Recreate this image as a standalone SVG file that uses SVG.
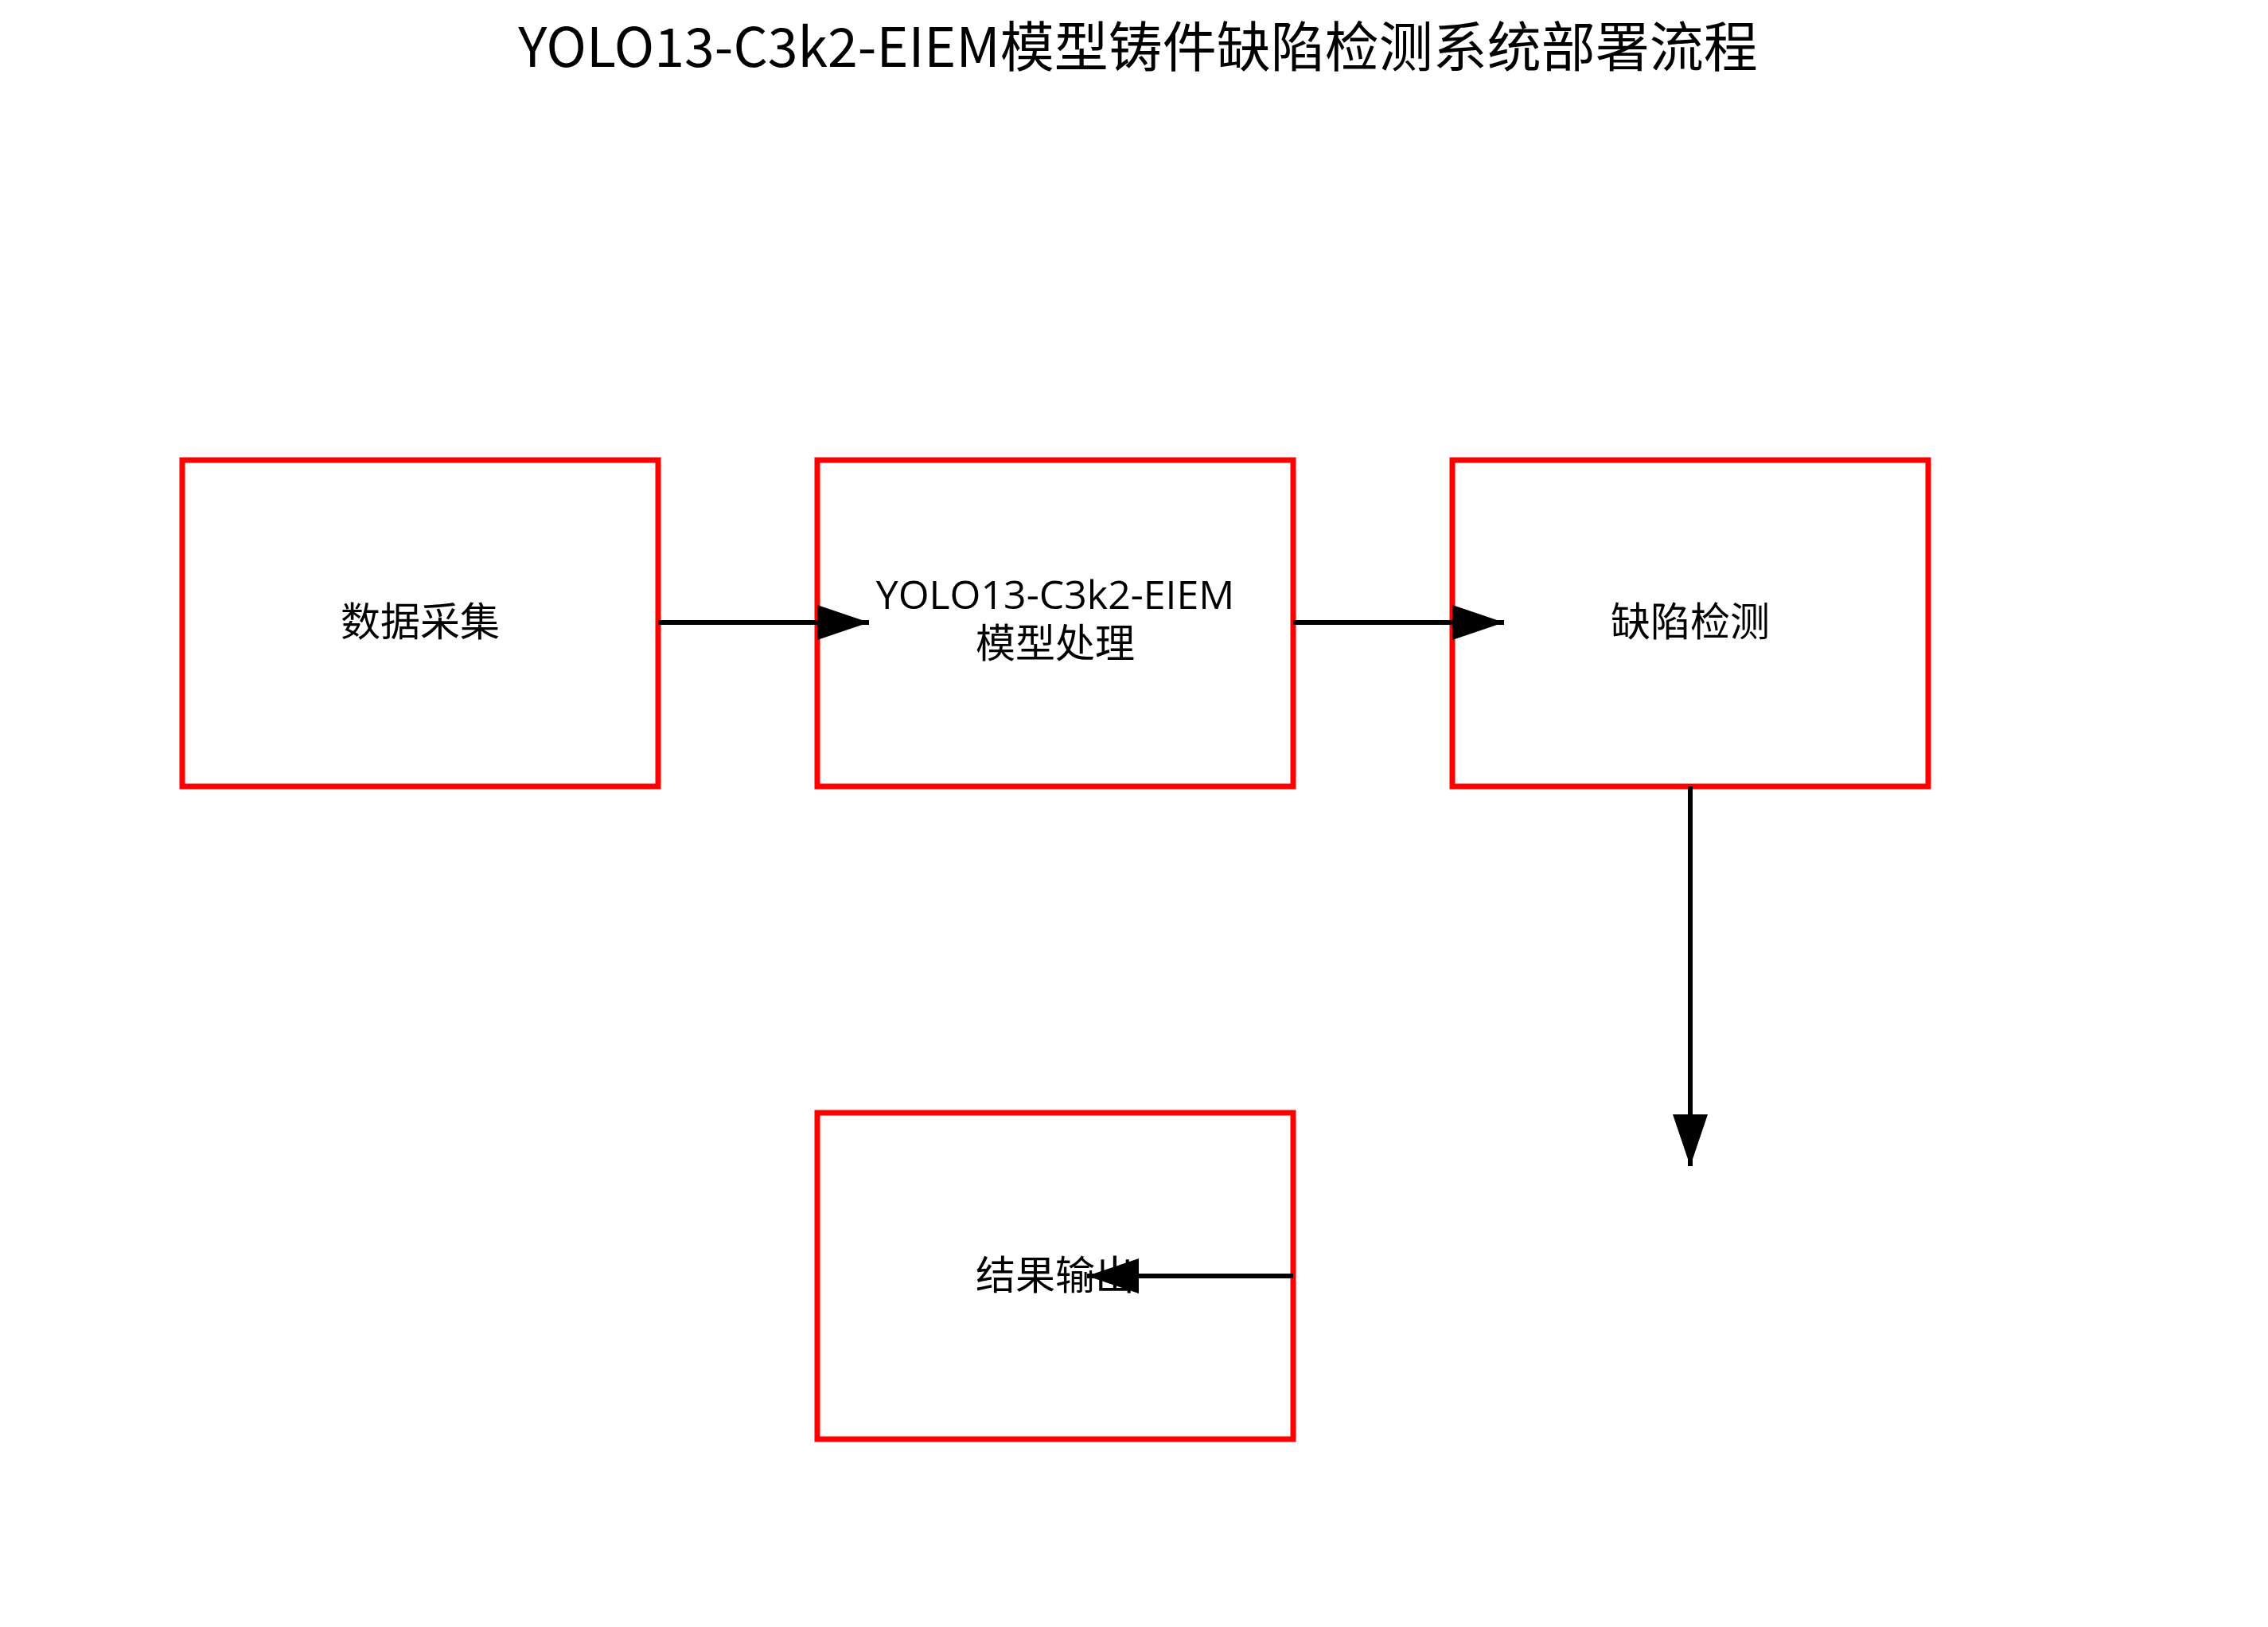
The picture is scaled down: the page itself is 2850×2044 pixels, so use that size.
<svg xmlns="http://www.w3.org/2000/svg" width="2850" height="2044" viewBox="0 0 2850 2044">
<style>
.box{fill:#fff;stroke:#ff0000;stroke-width:7}
.lbl{font-family:"Noto Sans CJK SC","Liberation Sans",sans-serif;font-size:50px;fill:#000;text-anchor:middle}
.lat{font-family:"Open Sans","Noto Sans CJK SC",sans-serif;font-size:50px;fill:#000;text-anchor:middle}
.ttl{font-family:"Noto Sans CJK SC","Liberation Sans",sans-serif;font-size:68px;fill:#000;text-anchor:middle}
.edge{stroke:#000;stroke-width:6;fill:none}
</style>
<defs>
<marker id="ah" viewBox="0 0 65 44" refX="65" refY="22" markerWidth="65" markerHeight="44" markerUnits="userSpaceOnUse" orient="auto">
<path d="M0,0 L65,22 L0,44 Z" fill="#000"/>
</marker>
</defs>
<rect width="2850" height="2044" fill="#fff"/>
<text class="ttl" x="1430" y="84">YOLO13-C3k2-EIEM模型铸件缺陷检测系统部署流程</text>
<g id="n1"><rect class="box" x="229" y="578" width="598" height="410"/><text class="lbl" x="528" y="799">数据采集</text></g>
<g id="n2"><rect class="box" x="1027" y="578" width="598" height="410"/><text class="lat" x="1326" y="765">YOLO13-C3k2-EIEM</text><text class="lbl" x="1326" y="826">模型处理</text></g>
<g id="n3"><rect class="box" x="1825" y="578" width="598" height="410"/><text class="lbl" x="2124" y="799">缺陷检测</text></g>
<g id="n4"><rect class="box" x="1027" y="1398" width="598" height="410"/><text class="lbl" x="1326" y="1620">结果输出</text></g>
<g id="edges">
<line class="edge" x1="827" y1="782" x2="1092" y2="782" marker-end="url(#ah)"/>
<line class="edge" x1="1625" y1="782" x2="1890" y2="782" marker-end="url(#ah)"/>
<line class="edge" x1="2124" y1="988" x2="2124" y2="1465" marker-end="url(#ah)"/>
<line class="edge" x1="1625" y1="1603" x2="1366" y2="1603" marker-end="url(#ah)"/>
</g>
</svg>
